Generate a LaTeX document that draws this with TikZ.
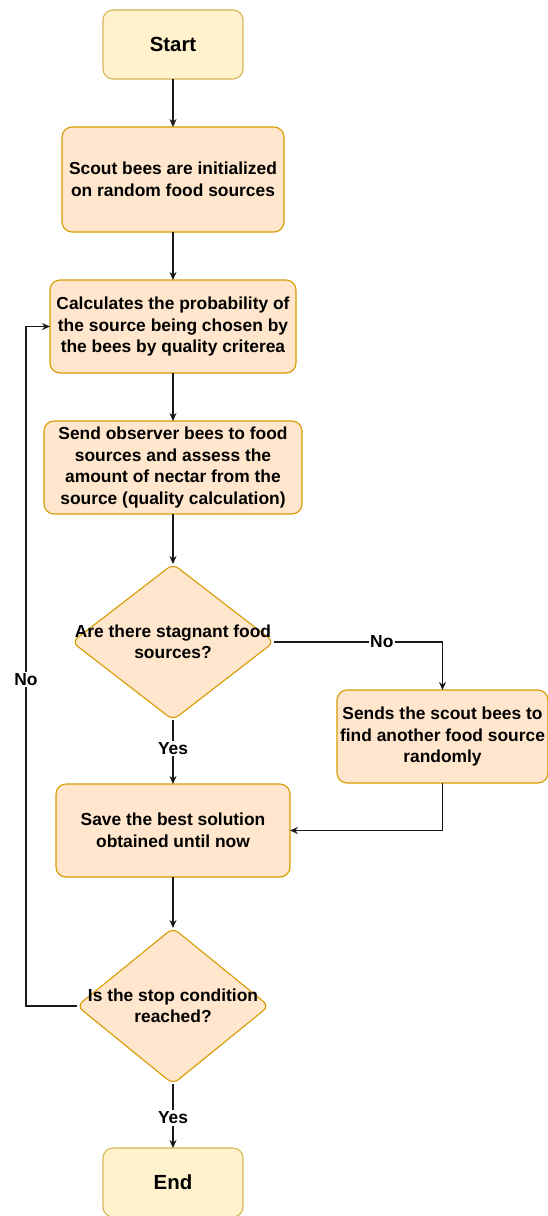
\documentclass[tikz,border=0pt]{standalone}
\usepackage{fontspec}
\setmainfont{Liberation Sans}
\usepackage{tikz}
\usetikzlibrary{positioning,arrows.meta,shapes.geometric}
\definecolor{termfill}{HTML}{FFF2CC}
\definecolor{termline}{HTML}{D6B656}
\definecolor{procfill}{HTML}{FFE6CC}
\definecolor{procline}{HTML}{D79B00}
\definecolor{edgecol}{HTML}{1A1A1A}
\tikzset{
  >={Stealth[length=8pt,width=7pt]},
  terminal/.style={rectangle,rounded corners=10pt,draw=termline,fill=termfill,
    line width=1.1pt,outer sep=0pt,minimum width=140pt,minimum height=69pt,
    font=\bfseries\fontsize{20.4}{24}\selectfont},
  process/.style={rectangle,rounded corners=10pt,draw=procline,fill=procfill,
    line width=1.1pt,outer sep=0pt,align=center,inner sep=2pt,
    font=\bfseries\fontsize{17.4}{21.5}\selectfont},
  decision/.style={diamond,rounded corners=7pt,draw=procline,fill=procfill,
    line width=1.1pt,outer sep=0pt,inner sep=0pt},
  qtext/.style={align=center,font=\bfseries\fontsize{17.4}{21.5}\selectfont},
  flow/.style={->,draw=edgecol,line width=1.1pt},
  answer/.style={fill=white,inner sep=1.5pt,font=\bfseries\fontsize{17.4}{21.5}\selectfont},
}

\begin{document}
\begin{tikzpicture}[x=1pt,y=1pt]
\useasboundingbox (0,0) rectangle (548,-1216);

\node[terminal] (start) at (173,-44.5) {Start};
\node[process,minimum width=222pt,minimum height=105pt,below=48pt of start] (init)
  {Scout bees are initialized\\on random food sources};
\node[process,minimum width=246pt,minimum height=93pt,below=48pt of init] (prob)
  {Calculates the probability of\\the source being chosen by\\the bees by quality criterea};
\node[process,minimum width=258pt,minimum height=93pt,below=48pt of prob] (assess)
  {Send observer bees to food\\sources and assess the\\amount of nectar from the\\source (quality calculation)};
\node[decision,minimum width=202pt,minimum height=156pt,below=50pt of assess,
  label={[qtext]center:{Are there stagnant food\\sources?}}] (stag) {};
\node[process,minimum width=211pt,minimum height=93pt,anchor=north west,
  below right=48pt and 63pt of stag.east] (rescout)
  {Sends the scout bees to\\find another food source\\randomly};
\node[process,minimum width=234pt,minimum height=93pt,below=64pt of stag] (best)
  {Save the best solution\\obtained until now};
\node[decision,minimum width=192pt,minimum height=156pt,below=51pt of best,
  label={[qtext]center:{Is the stop condition\\reached?}}] (stop) {};
\node[terminal,below=64pt of stop] (finish) {End};

\coordinate[left=51pt of stop.west] (back);

\draw[flow] (start) -- (init);
\draw[flow] (init) -- (prob);
\draw[flow] (prob) -- (assess);
\draw[flow] (assess) -- (stag);
\draw[flow] (stag.east) -| node[answer,pos=0.32] {No} (rescout.north);
\draw[flow] (stag) -- node[answer,pos=0.44] {Yes} (best);
\draw[flow] (rescout.south) |- (best.east);
\draw[flow] (best) -- (stop);
\draw[flow] (stop) -- node[answer,pos=0.53] {Yes} (finish);
\draw[flow] (stop.west) -- (back) |- node[answer,pos=0.24] {No} (prob.west);

\end{tikzpicture}
\end{document}
